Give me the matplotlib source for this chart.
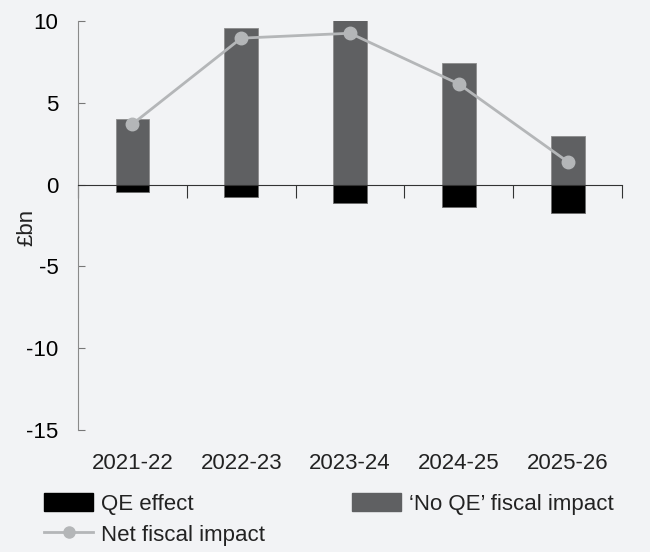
import matplotlib
matplotlib.use('Agg')
import matplotlib.pyplot as plt
from matplotlib.patches import Patch
from matplotlib.lines import Line2D
import matplotlib.transforms as mtransforms

# Fiscal impact of QE by year (£bn)
years = ['2021-22', '2022-23', '2023-24', '2024-25', '2025-26']
no_qe_impact = [4.0, 9.55, 10.05, 7.45, 3.0]
qe_effect = [-0.45, -0.75, -1.1, -1.4, -1.75]
net_impact = [3.7, 8.95, 9.25, 6.15, 1.4]

bg = '#f2f3f5'
plt.rcParams['font.family'] = ['Liberation Sans', 'DejaVu Sans']
plt.rcParams['text.color'] = '#222222'

fig = plt.figure(figsize=(6.5, 5.52), dpi=100, facecolor=bg)
ax = fig.add_axes([0.12, 0.221, 0.837, 0.741], facecolor=bg)

x = list(range(len(years)))
width = 0.31

# Stacked bars: positive 'no QE' part and negative QE part
ax.bar(x, no_qe_impact, width, color='#5f6062', edgecolor='#8c8c8c', linewidth=0.6, zorder=2)
ax.bar(x, qe_effect, width, color='#000000', edgecolor='#6a6a6a', linewidth=0.6, zorder=2)

# Net impact line
ax.plot(x, net_impact, color='#b4b6b8', linewidth=2, marker='o', markersize=9, zorder=3)

ax.set_xlim(-0.5, 4.5)
ax.set_ylim(-15, 10)
ax.set_yticks([-15, -10, -5, 0, 5, 10])
ax.set_yticklabels(['-15', '-10', '-5', '0', '5', '10'], fontsize=16)
ax.tick_params(axis='y', direction='in', length=5, color='#777777', pad=14)

ax.spines['top'].set_visible(False)
ax.spines['right'].set_visible(False)
ax.spines['left'].set_color('#8a8a8a')
ax.spines['bottom'].set_position(('data', 0))
ax.spines['bottom'].set_color('#333333')
ax.spines['bottom'].set_zorder(4)

# Ticks on the zero line at category boundaries
ax.set_xticks([i - 0.5 for i in range(len(years) + 1)])
ax.set_xticklabels([])
ax.tick_params(axis='x', direction='out', length=9, color='#333333')

# Year labels sit below the plot area
trans = mtransforms.blended_transform_factory(ax.transData, ax.transAxes)
for xi, lab in zip(x, years):
    ax.text(xi, -0.083, lab, transform=trans, ha='center', va='center', fontsize=16)

ax.text(-0.094, 0.495, '£bn', transform=ax.transAxes, rotation=90,
        ha='center', va='center', fontsize=16)

legend_kw = dict(loc='upper left', frameon=False, fontsize=16, handlelength=2.2,
                 handleheight=0.9, handletextpad=0.35, labelspacing=0.4, borderpad=0)
fig.legend([Patch(facecolor='#000000', edgecolor='#000000'),
            Line2D([0], [0], color='#b4b6b8', linewidth=2, marker='o', markersize=8)],
           ['QE effect', 'Net fiscal impact'],
           bbox_to_anchor=(0.051, 0.127), **legend_kw)
fig.legend([Patch(facecolor='#5f6062', edgecolor='#5f6062')],
           ['\u2018No QE\u2019 fiscal impact'],
           bbox_to_anchor=(0.525, 0.127), **legend_kw)

fig.savefig('out.png', dpi=100, facecolor=bg)
